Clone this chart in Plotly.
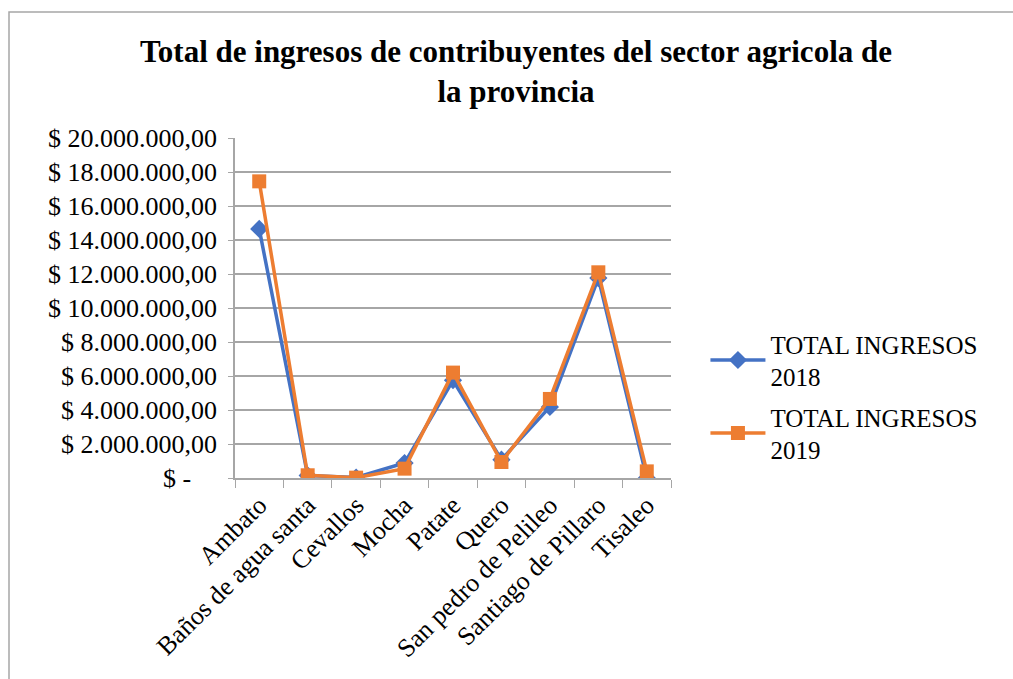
import plotly.graph_objects as go

categories = ["Ambato", "Baños de agua santa", "Cevallos", "Mocha", "Patate",
              "Quero", "San pedro de Pelileo", "Santiago de Pillaro", "Tisaleo"]
ingresos_2018 = [14650000, 150000, 30000, 880000, 5750000, 1080000, 4180000, 11760000, 0]
ingresos_2019 = [17450000, 160000, 20000, 550000, 6200000, 940000, 4650000, 12100000, 390000]
tick_values = [0, 2e6, 4e6, 6e6, 8e6, 10e6, 12e6, 14e6, 16e6, 18e6, 20e6]
tick_labels = ["$ -\u00a0\u00a0\u00a0\u00a0", "$ 2.000.000,00", "$ 4.000.000,00", "$ 6.000.000,00",
               "$ 8.000.000,00", "$ 10.000.000,00", "$ 12.000.000,00", "$ 14.000.000,00",
               "$ 16.000.000,00", "$ 18.000.000,00", "$ 20.000.000,00"]

FONT = "Liberation Serif, Times New Roman, serif"
W, H = 1013, 679
L, R, T, B = 235, 671, 138, 478

fig = go.Figure()
fig.add_trace(go.Scatter(
    x=categories, y=ingresos_2018, mode="lines+markers",
    name="TOTAL INGRESOS<br>2018", legendgroup="a",
    line=dict(color="#4472C4", width=3.5),
    marker=dict(symbol="diamond", size=14, color="#4472C4"),
))
fig.add_trace(go.Scatter(
    x=categories, y=ingresos_2019, mode="lines+markers",
    name="TOTAL INGRESOS<br>2019", legendgroup="b",
    line=dict(color="#ED7D31", width=3.5),
    marker=dict(symbol="square", size=14, color="#ED7D31"),
))

pw = R - L
ph = B - T
fig.add_shape(type="rect", xref="paper", yref="paper",
              x0=(9 - L) / pw, x1=(1040 - L) / pw,
              y0=(B - 700) / ph, y1=(B - 12) / ph,
              line=dict(color="#A6A6A6", width=1.5), fillcolor="rgba(0,0,0,0)", layer="below")

fig.update_layout(
    width=W, height=H,
    margin=dict(l=L, r=W - R, t=T, b=H - B),
    paper_bgcolor="white", plot_bgcolor="white",
    font=dict(family=FONT, color="black", size=24),
    title=dict(text="<b>Total de ingresos de contribuyentes del sector agricola de<br>la provincia</b>",
               x=516 / W, xref="container", xanchor="center",
               y=1 - 62 / H, yref="container", yanchor="top",
               font=dict(family=FONT, size=31, color="black")),
    showlegend=True,
    legend=dict(x=1.079, xanchor="left", y=(B - 321) / ph, yanchor="top",
                font=dict(family=FONT, size=25, color="black"),
                bgcolor="rgba(0,0,0,0)", itemwidth=55,
                traceorder="grouped", tracegroupgap=5),
    xaxis=dict(type="category", range=[-0.5, 8.5], tickangle=-45,
               showgrid=False, showline=True, linecolor="#A6A6A6", linewidth=1.5,
               ticks="outside", tickson="boundaries", ticklen=8, tickcolor="#A6A6A6",
               tickfont=dict(family=FONT, size=26)),
    yaxis=dict(range=[0, 20e6], tickvals=tick_values, ticktext=tick_labels,
               showgrid=True, gridcolor="#A6A6A6", gridwidth=1.5,
               showline=True, linecolor="#A6A6A6", linewidth=1.5,
               ticks="outside", ticklen=5, tickcolor="#A6A6A6",
               ticklabelstandoff=6, zeroline=False,
               tickfont=dict(family=FONT, size=26)),
)

fig.write_html("out.html", config={"displayModeBar": False},
               post_script="document.body.style.margin='0';document.body.style.overflow='hidden';")
